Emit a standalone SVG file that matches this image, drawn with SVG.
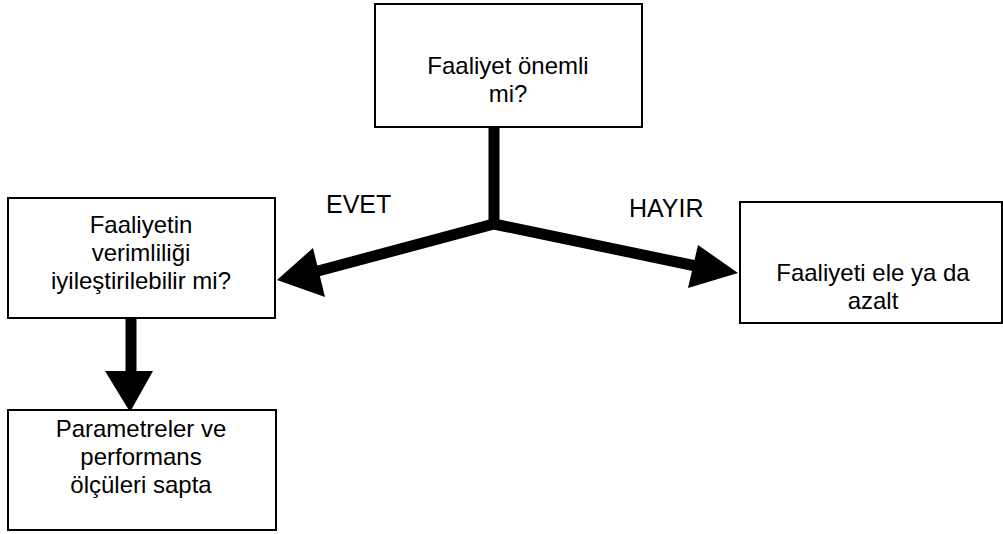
<svg xmlns="http://www.w3.org/2000/svg" width="1003" height="534" viewBox="0 0 1003 534">
  <style>
    .box { fill: #ffffff; stroke: #000000; stroke-width: 2; }
    .lbl { font-family: "Liberation Sans", Arial, sans-serif; font-size: 24px; fill: #000000; text-anchor: middle; }
    .tag { font-family: "Liberation Sans", Arial, sans-serif; font-size: 25px; fill: #000000; }
    .shaft { fill: none; stroke: #000000; stroke-width: 11; stroke-linejoin: miter; }
    .head { fill: #000000; stroke: none; }
  </style>
  <rect width="1003" height="534" fill="#ffffff"/>

  <!-- connectors: thick shafts with solid triangular heads -->
  <g id="connectors">
    <path class="shaft" d="M494 127 L494 226"/>
    <path class="shaft" d="M318 271 L494 224 L696 266"/>
    <polygon class="head" points="277,280 313,248 325,297"/>
    <polygon class="head" points="738,273 698,245 688,288"/>
    <path class="shaft" d="M131 318 L131 372"/>
    <polygon class="head" points="105,371 153,371 130,412"/>
    <text class="tag" x="326" y="213">EVET</text>
    <text class="tag" x="629" y="217">HAYIR</text>
  </g>

  <g id="node-onemli">
    <rect class="box" x="375" y="4" width="267" height="123"/>
    <text class="lbl" x="508" y="74">Faaliyet önemli</text>
    <text class="lbl" x="508" y="102">mi?</text>
  </g>

  <g id="node-verimlilik">
    <rect class="box" x="8" y="198" width="267" height="120"/>
    <text class="lbl" x="141" y="233">Faaliyetin</text>
    <text class="lbl" x="141" y="261">verimliliği</text>
    <text class="lbl" x="141" y="289">iyileştirilebilir mi?</text>
  </g>

  <g id="node-ele">
    <rect class="box" x="740" y="202" width="262" height="121"/>
    <text class="lbl" x="873" y="281">Faaliyeti ele ya da</text>
    <text class="lbl" x="873" y="309">azalt</text>
  </g>

  <g id="node-parametre">
    <rect class="box" x="8" y="410" width="268" height="120"/>
    <text class="lbl" x="141" y="437">Parametreler ve</text>
    <text class="lbl" x="141" y="465">performans</text>
    <text class="lbl" x="141" y="493">ölçüleri sapta</text>
  </g>
</svg>
